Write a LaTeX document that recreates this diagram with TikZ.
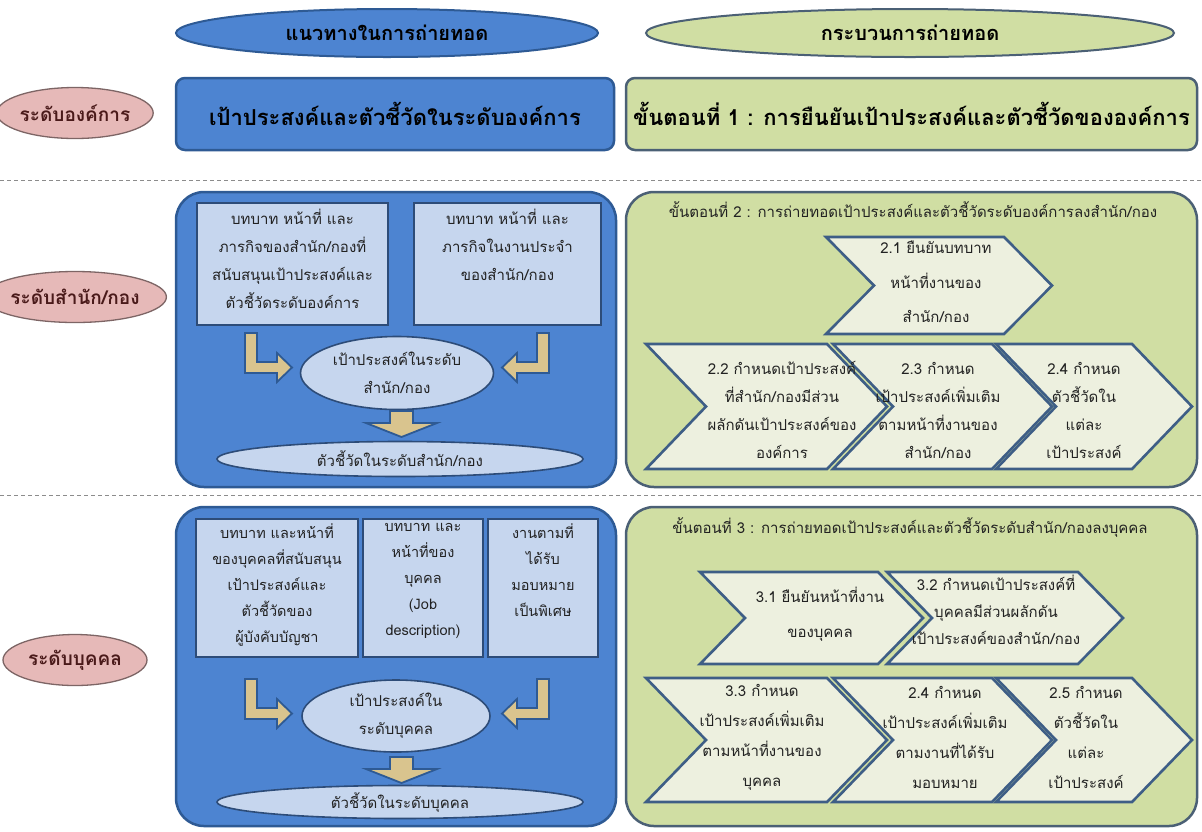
\documentclass[tikz,border=0pt]{standalone}
\usepackage{fontspec}
\newfontfamily\thaifont[Script=Thai]{Loma}
\usetikzlibrary{shapes.geometric}

\definecolor{bluefill}{HTML}{4D84D1}
\definecolor{blueedge}{HTML}{2E5A94}
\definecolor{paleblue}{HTML}{C6D6EE}
\definecolor{boxedge}{HTML}{2D4C78}
\definecolor{greenfill}{HTML}{D0DEA3}
\definecolor{greenedge}{HTML}{4B6075}
\definecolor{chevfill}{HTML}{EDF0DF}
\definecolor{chevedge}{HTML}{3E5E86}
\definecolor{pinkfill}{HTML}{E6B9B8}
\definecolor{pinkedge}{HTML}{7D6565}
\definecolor{arrowtan}{HTML}{D9C48E}
\definecolor{ink}{HTML}{222222}
\definecolor{labelink}{HTML}{4A1A1A}
\definecolor{sepgray}{HTML}{8C8C8C}

\tikzset{
  headfont/.style={font=\thaifont\bfseries\fontsize{20}{24}\selectfont},
  bigfont/.style={font=\thaifont\bfseries\fontsize{22}{26}\selectfont},
  bodyfont/.style={font=\thaifont\fontsize{15}{28}\selectfont},
  hdrblue/.style={ellipse, draw=blueedge, fill=bluefill, line width=2pt, inner sep=0pt, headfont, text=black},
  hdrgreen/.style={ellipse, draw=greenedge, fill=greenfill, line width=2pt, inner sep=0pt, headfont, text=black},
  levelpill/.style={ellipse, draw=pinkedge, fill=pinkfill, line width=1.3pt, inner sep=0pt,
    minimum width=144pt, minimum height=51pt, text=labelink, font=\thaifont\bfseries\fontsize{19}{23}\selectfont},
  bluepanel/.style={rectangle, draw=blueedge, fill=bluefill, line width=2.5pt, inner sep=0pt},
  greenpanel/.style={rectangle, draw=greenedge, fill=greenfill, line width=2.5pt, inner sep=0pt},
  inbox/.style={rectangle, draw=boxedge, fill=paleblue, line width=1.6pt, inner sep=0pt},
  inoval/.style={ellipse, draw=boxedge, fill=paleblue, line width=1.6pt, inner sep=0pt, bodyfont, text=ink, align=center},
  boxtext/.style={bodyfont, text=ink, align=center, inner sep=0pt},
  titletext/.style={font=\thaifont\fontsize{15}{18}\selectfont, text=ink, inner sep=0pt},
  chev/.style={draw=chevedge, fill=chevfill, line width=2.6pt, line join=miter},
  chevtext/.style={bodyfont, text=ink, align=center, inner sep=0pt},
  blockarrow/.style={draw=blueedge, fill=arrowtan, line width=1.8pt, line join=miter},
  sepline/.style={draw=sepgray, line width=1pt, dash pattern=on 4pt off 3pt}
}

% chevron: name, left x, right x, top y, bottom y, point depth
\newcommand\chevshape[6]{%
  \draw[chev] (#2,#4) -- (#3,#4) -- ({#3+#6},{(#4+#5)/2}) -- (#3,#5) -- (#2,#5)
    -- ({#2+#6},{(#4+#5)/2}) -- cycle;
  \coordinate (#1) at ({(#2+#3+#6)/2},{(#4+#5)/2});}

\begin{document}
\begin{tikzpicture}[x=1pt,y=-1pt]
\useasboundingbox (0,0) rectangle (1202,831);
\fill[white] (0,0) rectangle (1202,831);

% ---- column headings
\node[hdrblue, minimum width=422pt, minimum height=48pt] (hdrGuide) at (387,33) {แนวทางในการถ่ายทอด};
\node[hdrgreen, minimum width=528pt, minimum height=48pt] (hdrProc) at (910,33) {กระบวนการถ่ายทอด};

% ---- level labels
\node[levelpill] (lvlOrg) at (75,113) {ระดับองค์การ};
\node[levelpill] (lvlDept) at (75,297) {ระดับสำนัก/กอง};
\node[levelpill] (lvlPers) at (75,660) {ระดับบุคคล};

% ---- separators
\coordinate (sepAL) at (0,180);   \coordinate (sepAR) at (1202,180);
\coordinate (sepBL) at (0,495);   \coordinate (sepBR) at (1202,495);
\draw[sepline] (sepAL) -- (sepAR);
\draw[sepline] (sepBL) -- (sepBR);

% ---- organisation level
\node[bluepanel, rounded corners=9pt, minimum width=438pt, minimum height=72pt, bigfont, text=black]
  (orgGuide) at (395,114) {เป้าประสงค์และตัวชี้วัดในระดับองค์การ};
\node[greenpanel, rounded corners=9pt, minimum width=571pt, minimum height=72pt, bigfont, text=black]
  (orgProc) at (911.5,114) {ขั้นตอนที่ 1 : การยืนยันเป้าประสงค์และตัวชี้วัดขององค์การ};

% ---- department level, guideline side
\node[bluepanel, rounded corners=28pt, minimum width=440pt, minimum height=295pt] (deptGuide) at (396,339.5) {};
\node[inbox, minimum width=191pt, minimum height=122pt] (dRole) at (292.5,264) {};
\node[inbox, minimum width=187pt, minimum height=122pt] (dRoutine) at (507.5,264) {};
\node[boxtext, anchor=north] (dRoleTxt) at (dRole.north |- 0,209)
  {บทบาท หน้าที่ และ\\ภารกิจของสำนัก/กองที่\\สนับสนุนเป้าประสงค์และ\\ตัวชี้วัดระดับองค์การ};
\node[boxtext, anchor=north] (dRoutineTxt) at (dRoutine.north |- 0,209)
  {บทบาท หน้าที่ และ\\ภารกิจในงานประจำ\\ของสำนัก/กอง};

\draw[blockarrow] (245,333) -- (257,333) -- (257,362) -- (277,362) -- (277,353) -- (292,367.5)
  -- (277,382) -- (277,373) -- (245,373) -- cycle;
\draw[blockarrow] (549,333) -- (537,333) -- (537,362) -- (517,362) -- (517,353) -- (502,367.5)
  -- (517,382) -- (517,373) -- (549,373) -- cycle;
\node[inoval, minimum width=193pt, minimum height=73pt] (dGoal) at (397,373) {เป้าประสงค์ในระดับ\\สำนัก/กอง};
\draw[blockarrow] (390,411) -- (413,411) -- (413,423) -- (437,423) -- (401.5,437) -- (366,423)
  -- (390,423) -- cycle;
\node[inoval, minimum width=366pt, minimum height=35pt] (dKpi) at (400,459) {ตัวชี้วัดในระดับสำนัก/กอง};

% ---- department level, process side
\node[greenpanel, rounded corners=28pt, minimum width=571pt, minimum height=295pt] (deptProc) at (911.5,339.5) {};
\node[titletext] (deptTitle) at (913,210)
  {ขั้นตอนที่ 2 : การถ่ายทอดเป้าประสงค์และตัวชี้วัดระดับองค์การลงสำนัก/กอง};
\chevshape{c21}{826}{1004}{237}{334}{48}
\chevshape{c22}{646}{827}{344}{469}{60}
\chevshape{c23}{833}{992}{344}{469}{60}
\chevshape{c24}{996}{1132}{344}{469}{60}
\node[chevtext, font=\thaifont\fontsize{15}{34.5}\selectfont] (t21) at (936,282) {2.1 ยืนยันบทบาท\\หน้าที่งานของ\\สำนัก/กอง};
\node[chevtext] (t22) at (782,410) {2.2 กำหนดเป้าประสงค์\\ที่สำนัก/กองมีส่วน\\ผลักดันเป้าประสงค์ของ\\องค์การ};
\node[chevtext] (t23) at (938,410) {2.3 กำหนด\\เป้าประสงค์เพิ่มเติม\\ตามหน้าที่งานของ\\สำนัก/กอง};
\node[chevtext] (t24) at (1084,410) {2.4 กำหนด\\ตัวชี้วัดใน\\แต่ละ\\เป้าประสงค์};

% ---- individual level, guideline side
\node[bluepanel, rounded corners=28pt, minimum width=440pt, minimum height=319pt] (persGuide) at (396,666.5) {};
\node[inbox, minimum width=162pt, minimum height=138pt] (pSup) at (277,588) {};
\node[inbox, minimum width=120pt, minimum height=138pt] (pJob) at (423,588) {};
\node[inbox, minimum width=110pt, minimum height=138pt] (pSpec) at (543,588) {};
\node[boxtext, font=\thaifont\fontsize{14.5}{26}\selectfont, anchor=north] (pSupTxt) at (pSup.north |- 0,523)
  {บทบาท และหน้าที่\\ของบุคคลที่สนับสนุน\\เป้าประสงค์และ\\ตัวชี้วัดของ\\ผู้บังคับบัญชา};
\node[boxtext, font=\thaifont\fontsize{14.5}{26}\selectfont, anchor=north] (pJobTxt) at (pJob.north |- 0,523)
  {บทบาท และ\\หน้าที่ของ\\บุคคล\\(Job\\description)};
\node[boxtext, font=\thaifont\fontsize{14.5}{26}\selectfont, anchor=north] (pSpecTxt) at (pSpec.north |- 0,523)
  {งานตามที่\\ได้รับ\\มอบหมาย\\เป็นพิเศษ};

\begin{scope}[shift={(0,346)}]
\draw[blockarrow] (245,333) -- (257,333) -- (257,362) -- (277,362) -- (277,353) -- (292,367.5)
  -- (277,382) -- (277,373) -- (245,373) -- cycle;
\draw[blockarrow] (549,333) -- (537,333) -- (537,362) -- (517,362) -- (517,353) -- (502,367.5)
  -- (517,382) -- (517,373) -- (549,373) -- cycle;
\draw[blockarrow] (390,411) -- (413,411) -- (413,423) -- (437,423) -- (401.5,437) -- (366,423)
  -- (390,423) -- cycle;
\end{scope}
\node[inoval, minimum width=188pt, minimum height=72pt] (pGoal) at (396,716) {เป้าประสงค์ใน\\ระดับบุคคล};
\node[inoval, minimum width=366pt, minimum height=33pt] (pKpi) at (400,802) {ตัวชี้วัดในระดับบุคคล};

% ---- individual level, process side
\node[greenpanel, rounded corners=28pt, minimum width=571pt, minimum height=319pt] (persProc) at (911.5,666.5) {};
\node[titletext] (persTitle) at (910,527)
  {ขั้นตอนที่ 3 : การถ่ายทอดเป้าประสงค์และตัวชี้วัดระดับสำนัก/กองลงบุคคล};
\chevshape{c31}{700}{878}{572}{664}{45}
\chevshape{c32}{887}{1078}{572}{664}{45}
\chevshape{c33}{646}{827}{678}{802}{60}
\chevshape{c34}{833}{992}{678}{802}{60}
\chevshape{c35}{996}{1132}{678}{802}{60}
\node[chevtext, font=\thaifont\fontsize{15}{35}\selectfont] (t31) at (820,614) {3.1 ยืนยันหน้าที่งาน\\ของบุคคล};
\node[chevtext, font=\thaifont\fontsize{15}{27}\selectfont] (t32) at (996,610) {3.2 กำหนดเป้าประสงค์ที่\\บุคคลมีส่วนผลักดัน\\เป้าประสงค์ของสำนัก/กอง};
\node[chevtext, font=\thaifont\fontsize{15}{30}\selectfont] (t33) at (762,737) {3.3 กำหนด\\เป้าประสงค์เพิ่มเติม\\ตามหน้าที่งานของ\\บุคคล};
\node[chevtext, font=\thaifont\fontsize{15}{30}\selectfont] (t34) at (945,737) {2.4 กำหนด\\เป้าประสงค์เพิ่มเติม\\ตามงานที่ได้รับ\\มอบหมาย};
\node[chevtext, font=\thaifont\fontsize{15}{30}\selectfont] (t35) at (1086,737) {2.5 กำหนด\\ตัวชี้วัดใน\\แต่ละ\\เป้าประสงค์};
\end{tikzpicture}
\end{document}
